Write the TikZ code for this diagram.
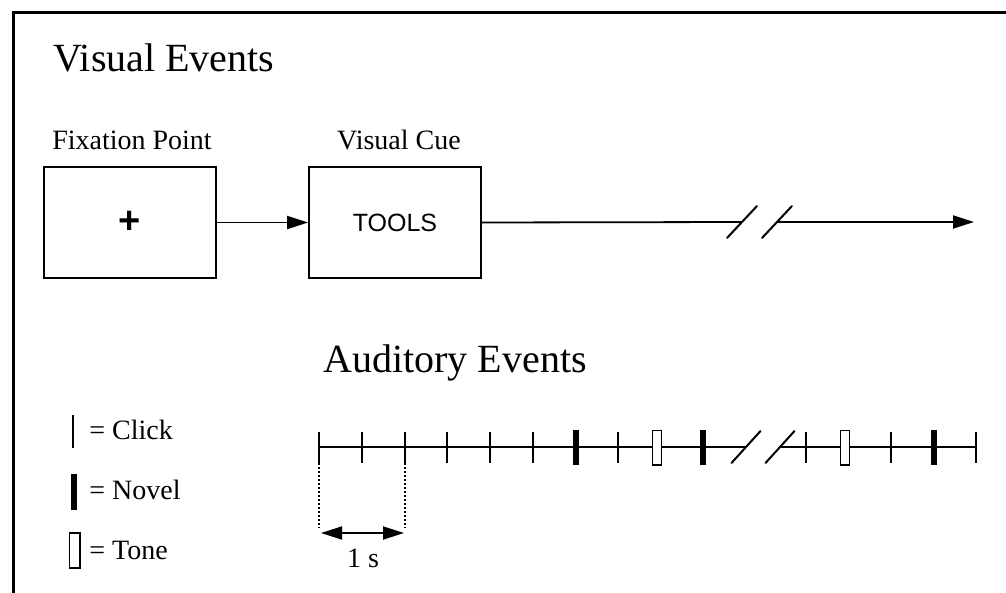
\documentclass[tikz,border=0pt]{standalone}
\usepackage{fontspec}
\setmainfont{Liberation Serif}
\newfontfamily\helv{Liberation Sans}
\usetikzlibrary{arrows.meta}

\begin{document}
\begin{tikzpicture}[x=0.5pt,y=-0.5pt,>={Triangle[length=10.5pt,width=6.5pt]}]
	\tikzstyle{box}=[draw=black,line width=0.9pt,minimum width=86pt,minimum height=55.5pt,inner sep=0pt]
	\tikzstyle{head}=[font=\fontsize{20}{24}\selectfont,anchor=base west,inner sep=0pt]
	\tikzstyle{lbl}=[font=\fontsize{14}{17}\selectfont,anchor=base,inner sep=0pt]
	\tikzstyle{key}=[font=\fontsize{14}{17}\selectfont,anchor=base west,inner sep=0pt]
	\tikzstyle{flow}=[draw=black,line width=0.9pt]
	\tikzstyle{axis}=[draw=black,line width=1pt]
	\tikzstyle{novel}=[fill=black]
	\tikzstyle{tone}=[draw=black,fill=white,line width=0.7pt]
	\tikzstyle{cut}=[draw=black,line width=1pt,line cap=round]

	\useasboundingbox (0,0) rectangle (1006,593);
	% open frame, top and left side only
	\draw[line width=1.5pt] (13,593) -- (13,13) -- (1006,13);

	% visual stream
	\node [head] (vis) at (53,72) {Visual Events};
	\node [box] (fix) at (130,222.5) {\helv\bfseries\fontsize{19}{23}\selectfont +};
	\node [box] (cue) at (395,222.5) {\helv\fontsize{12.5}{15}\selectfont TOOLS};
	\node [lbl] (fixlbl) at (132,150) {Fixation Point};
	\node [lbl] (cuelbl) at (399,150) {Visual Cue};

	\coordinate (vb1) at (742,222);
	\coordinate (vb2) at (777,222);
	\coordinate (vend) at (974,222);

	\path[flow,->] (fix) -- (cue);
	\path[flow] (cue.east) -- (vb1);
	\path[flow,->] (vb2) -- (vend);
	\draw[cut] ([shift={(-15,16)}]vb1) -- ([shift={(15,-16)}]vb1);
	\draw[cut] ([shift={(-15,16)}]vb2) -- ([shift={(15,-16)}]vb2);

	% auditory stream
	\node [head] (aud) at (323,372) {Auditory Events};

	\coordinate (a0) at (319,447);
	\coordinate (ab1) at (746,447);
	\coordinate (ab2) at (780,447);
	\coordinate (aend) at (976,447);

	\path[axis] (a0) -- (ab1);
	\path[axis] (ab2) -- (aend);
	\draw[cut] ([shift={(-14.5,16)}]ab1) -- ([shift={(14.5,-16)}]ab1);
	\draw[cut] ([shift={(-14.5,16)}]ab2) -- ([shift={(14.5,-16)}]ab2);

	\foreach \x in {319,362,405,447,490,533,618,806,891,976}
		\draw[axis] (\x,432) -- (\x,463);
	\foreach \x in {576,703,934}
		\fill[novel] ({\x-2.75},430) rectangle ({\x+2.75},465);
	\foreach \x in {657,845}
		\draw[tone] ({\x-4.75},430.5) rectangle ({\x+4.75},465);

	% one second marker
	\coordinate (s0) at (319,463);
	\coordinate (s1) at (405,463);
	\coordinate (d0) at (321,533);
	\coordinate (d1) at (404,533);
	\draw[line width=0.8pt,dash pattern=on 0.8pt off 1.2pt] (s0) -- (319,528);
	\draw[line width=0.8pt,dash pattern=on 0.8pt off 1.2pt] (s1) -- (405,528);
	\path[flow,<->] (d0) -- (d1);
	\node [lbl] (sec) at (363,567) {1 s};

	% legend
	\draw[axis] (73,415) -- (73,448);
	\node [key] (kclick) at (89,439) {= Click};
	\fill[novel] (71,474) rectangle (76.7,510);
	\node [key] (knovel) at (89,499) {= Novel};
	\draw[tone] (69.5,533) rectangle (80,568);
	\node [key] (ktone) at (89,559) {= Tone};
\end{tikzpicture}
\end{document}
